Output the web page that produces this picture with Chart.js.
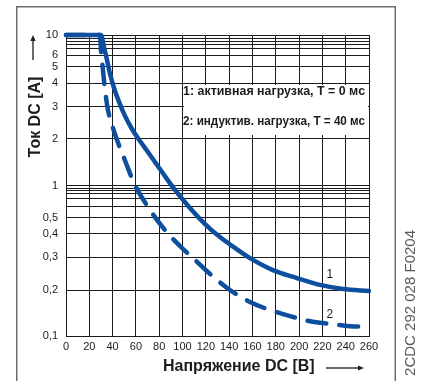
<!DOCTYPE html>
<html>
<head>
<meta charset="utf-8">
<script src="https://cdn.jsdelivr.net/npm/chart.js@4/dist/chart.umd.min.js"></script>
<style>
  html, body { margin: 0; padding: 0; background: #fff; }
  canvas { display: block; }
</style>
</head>
<body>
<canvas id="chart" width="423" height="381"></canvas>
<script>
// Curve 1: resistive load, T = 0 ms  (voltage in V DC, current in A DC)
const voltage1 = [0, 30, 32.6, 35.2, 37.8, 41.2, 45.5, 50.6, 56.6, 63.5, 72.1, 82.4, 93.5, 106.4, 119.3, 132.1, 145, 157.9, 177.6, 198.2, 218, 237.7, 260];
const current1 = [10, 10, 7.39, 5.58, 4.53, 3.77, 3.19, 2.68, 2.27, 1.94, 1.576, 1.223, 0.908, 0.616, 0.457, 0.383, 0.336, 0.297, 0.256, 0.232, 0.213, 0.2025, 0.197];

// Curve 2: inductive load, T = 40 ms
const voltage2 = [0, 29.2, 30, 31.7, 33.5, 36, 39.5, 43.8, 49.8, 59.2, 72.1, 84.9, 97.8, 110.7, 123.6, 140.7, 157.9, 175, 192.2, 209.4, 226.5, 243.7, 260];
const current2 = [10, 10, 6.86, 4.8, 3.68, 2.89, 2.39, 1.97, 1.506, 1.007, 0.59, 0.42, 0.344, 0.29, 0.244, 0.2, 0.167, 0.148, 0.135, 0.125, 0.12, 0.116, 0.115];

// Axis ticks
const xTickValues = [0, 20, 40, 60, 80, 100, 120, 140, 160, 180, 200, 220, 240, 260];
const yLabelledTicks = [0.1, 0.2, 0.3, 0.4, 0.5, 1, 2, 3, 4, 5, 6, 10];
const yUnlabelledGrid = [0.64, 0.76, 0.85, 0.89, 0.94, 7.08, 7.83, 8.53, 9.27];

// Texts
const curveKey = ['1: активная нагрузка, T = 0 мс', '2: индуктив. нагрузка, T = 40 мс'];
const curveTags = ['1', '2'];
const xTitle = 'Напряжение DC [B]';
const yTitle = 'Ток DC [A]';
const drawingCode = '2CDC 292 028 F0204';

const BLUE = '#0d4f9e';
const INK = '#1c1c1c';
const FONT = '"Liberation Sans", Arial, Helvetica, sans-serif';

// The current axis of this sheet is a hand-drawn log grid: its decades are not
// evenly subdivided, so the scale maps each labelled value to its own height.
const warpAnchors = [
  [0.1, 0], [0.2, 0.1528], [0.3, 0.2615], [0.4, 0.3405], [0.5, 0.3930],
  [1, 0.5], [2, 0.6545], [3, 0.7608], [4, 0.8405], [5, 0.8937], [6, 0.9326], [10, 1]
];
function warpDecimal(v) {
  const a = warpAnchors;
  let i = 0;
  while (i < a.length - 2 && v > a[i + 1][0]) i++;
  const l0 = Math.log10(a[i][0]), l1 = Math.log10(a[i + 1][0]);
  const t = (Math.log10(v) - l0) / (l1 - l0);
  return a[i][1] + t * (a[i + 1][1] - a[i][1]);
}
function unwarpDecimal(d) {
  const a = warpAnchors;
  let i = 0;
  while (i < a.length - 2 && d > a[i + 1][1]) i++;
  const t = (d - a[i][1]) / (a[i + 1][1] - a[i][1]);
  const l0 = Math.log10(a[i][0]), l1 = Math.log10(a[i + 1][0]);
  return Math.pow(10, l0 + t * (l1 - l0));
}

const LogScale = Chart.registry.getScale('logarithmic');
class WarpedLogScale extends LogScale {
  getPixelForValue(value) {
    if (value === undefined || value === null || isNaN(value) || value <= 0) return NaN;
    return this.getPixelForDecimal(warpDecimal(value));
  }
  getValueForPixel(pixel) {
    return unwarpDecimal(this.getDecimalForPixel(pixel));
  }
}
WarpedLogScale.id = 'warpedLog';
WarpedLogScale.defaults = LogScale.defaults;
Chart.register(WarpedLogScale);

function arrow(ctx, x0, y0, x1, y1) {
  const ang = Math.atan2(y1 - y0, x1 - x0);
  const head = 6, half = 2.6;
  ctx.beginPath();
  ctx.moveTo(x0, y0);
  ctx.lineTo(x1 - head * Math.cos(ang), y1 - head * Math.sin(ang));
  ctx.stroke();
  ctx.beginPath();
  ctx.moveTo(x1, y1);
  ctx.lineTo(x1 - head * Math.cos(ang) + half * Math.sin(ang), y1 - head * Math.sin(ang) - half * Math.cos(ang));
  ctx.lineTo(x1 - head * Math.cos(ang) - half * Math.sin(ang), y1 - head * Math.sin(ang) + half * Math.cos(ang));
  ctx.closePath();
  ctx.fill();
}

const sheetDecor = {
  id: 'sheetDecor',
  beforeDatasetsDraw(chart) {
    // blank panel behind the curve key
    const { ctx, scales: { x, y } } = chart;
    const left = x.getPixelForValue(100) + 1.5;
    const right = x.getPixelForValue(260) - 1;
    const top = y.getPixelForValue(4) + 2;
    const bottom = y.getPixelForValue(2) - 4;
    ctx.save();
    ctx.fillStyle = '#fff';
    ctx.fillRect(left, top, right - left, bottom - top);
    ctx.restore();
  },
  afterDraw(chart) {
    const { ctx, scales: { x, y } } = chart;
    ctx.save();

    // sheet frame
    ctx.strokeStyle = '#6e6e6e';
    ctx.lineWidth = 1.5;
    ctx.strokeRect(16.75, 6.75, 378.5, 420);

    ctx.fillStyle = INK;
    ctx.strokeStyle = INK;

    // curve key
    ctx.font = 'bold 13px ' + FONT;
    ctx.textAlign = 'left';
    ctx.textBaseline = 'alphabetic';
    const keyX = x.getPixelForValue(100) + 0.5;
    ctx.fillText(curveKey[0], keyX, 95, 182);
    ctx.fillText(curveKey[1], keyX, 124.5, 182);

    // curve tags
    ctx.font = '12px ' + FONT;
    ctx.textAlign = 'center';
    ctx.textBaseline = 'middle';
    ctx.fillText(curveTags[0], x.getPixelForValue(226.5), y.getPixelForValue(0.241));
    ctx.fillText(curveTags[1], x.getPixelForValue(226.5), y.getPixelForValue(0.137));

    // y axis title with arrow
    ctx.save();
    ctx.translate(36, 117);
    ctx.rotate(-Math.PI / 2);
    ctx.font = 'bold 16px ' + FONT;
    ctx.textAlign = 'center';
    ctx.textBaseline = 'middle';
    ctx.fillText(yTitle, 0, 0);
    ctx.restore();
    ctx.lineWidth = 1.3;
    arrow(ctx, 33, 60, 33, 35);

    // x axis title with arrow
    ctx.font = 'bold 16px ' + FONT;
    ctx.textAlign = 'left';
    ctx.textBaseline = 'middle';
    ctx.fillText(xTitle, 163, 367);
    arrow(ctx, 326, 368, 364, 368);

    // drawing number
    ctx.save();
    ctx.fillStyle = '#5a5a5a';
    ctx.font = '15px ' + FONT;
    ctx.translate(411, 230);
    ctx.rotate(-Math.PI / 2);
    ctx.textAlign = 'right';
    ctx.textBaseline = 'middle';
    ctx.fillText(drawingCode, 0, 0);
    ctx.restore();

    ctx.restore();
  }
};

const gridStyle = { color: INK, lineWidth: 1, drawTicks: false };

new Chart(document.getElementById('chart'), {
  type: 'line',
  data: {
    datasets: [
      {
        label: curveKey[0],
        data: voltage1.map((v, i) => ({ x: v, y: current1[i] })),
        borderColor: BLUE,
        borderWidth: 4.5,
        pointRadius: 0,
        cubicInterpolationMode: 'monotone',
        borderCapStyle: 'round',
        borderJoinStyle: 'round',
        clip: 8
      },
      {
        label: curveKey[1],
        data: voltage2.map((v, i) => ({ x: v, y: current2[i] })),
        borderColor: BLUE,
        borderWidth: 4.5,
        borderDash: [19, 13],
        pointRadius: 0,
        cubicInterpolationMode: 'monotone',
        borderCapStyle: 'round',
        borderJoinStyle: 'round',
        clip: 8
      }
    ]
  },
  options: {
    responsive: false,
    animation: false,
    devicePixelRatio: 1,
    layout: { padding: { top: 35, right: 54, left: 0, bottom: 0 } },
    plugins: { legend: { display: false }, tooltip: { enabled: false } },
    scales: {
      x: {
        type: 'linear',
        min: 0,
        max: 260,
        afterFit: (s) => { s.height = 45; },
        afterBuildTicks: (s) => { s.ticks = xTickValues.map(v => ({ value: v })); },
        ticks: { autoSkip: false, maxRotation: 0, padding: 4, color: INK, font: { family: FONT, size: 11 } },
        grid: gridStyle,
        border: { color: INK, width: 1 }
      },
      y: {
        type: 'warpedLog',
        min: 0.1,
        max: 10,
        afterFit: (s) => { s.width = 66; },
        afterBuildTicks: (s) => {
          s.ticks = yLabelledTicks.concat(yUnlabelledGrid).sort((a, b) => a - b).map(v => ({ value: v }));
        },
        ticks: {
          autoSkip: false,
          padding: 8,
          color: INK,
          font: { family: FONT, size: 11 },
          callback: (v) => yLabelledTicks.includes(v) ? String(v).replace('.', ',') : ''
        },
        grid: gridStyle,
        border: { color: INK, width: 1 }
      }
    }
  },
  plugins: [sheetDecor]
});
</script>
</body>
</html>
